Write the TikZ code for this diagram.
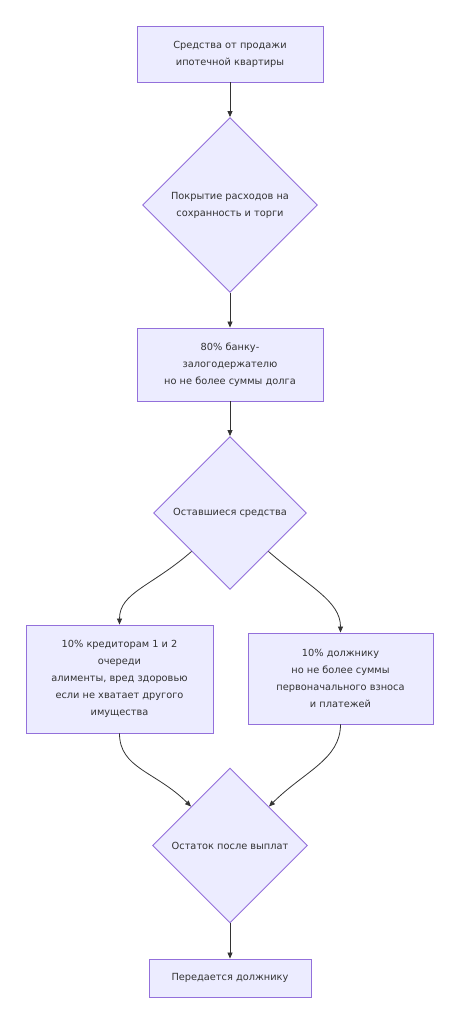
\documentclass[tikz,border=0pt]{standalone}
\usepackage{fontspec}
\setmainfont{DejaVu Sans}
\usetikzlibrary{shapes.geometric,arrows.meta}
\definecolor{nodefill}{HTML}{ECECFF}
\definecolor{nodeline}{HTML}{9370DB}
\definecolor{txt}{HTML}{333333}
\tikzset{
  base/.style={fill=nodefill, draw=nodeline, line width=0.9pt, text=txt,
    font=\fontsize{9.8}{17}\selectfont, align=center, inner sep=0pt},
  box/.style={base, rectangle},
  dia/.style={base, diamond, aspect=1},
  conn/.style={draw=txt, line width=0.8pt, -{Triangle[length=6pt,width=5pt]}}
}
\begin{document}
\begin{tikzpicture}[x=1pt,y=-1pt]
\useasboundingbox (0,0) rectangle (460,1024);
\node[box, minimum width=186pt, minimum height=56pt] (b1) at (230,54)
  {Средства от продажи\\ипотечной квартиры};
\node[dia, minimum width=175pt, minimum height=175pt] (d1) at (230,205)
  {Покрытие расходов на\\сохранность и торги};
\node[box, minimum width=186pt, minimum height=73pt] (b2) at (230,364.5)
  {80\% банку-\\залогодержателю\\но не более суммы долга};
\node[dia, minimum width=153pt, minimum height=153pt] (d2) at (230,513)
  {Оставшиеся средства};
\node[box, minimum width=187pt, minimum height=108pt] (b3) at (119.5,679)
  {10\% кредиторам 1 и 2\\очереди\\алименты, вред здоровью\\если не хватает другого\\имущества};
\node[box, minimum width=185pt, minimum height=91pt] (b4) at (340.5,678.5)
  {10\% должнику\\но не более суммы\\первоначального взноса\\и платежей};
\node[dia, minimum width=155pt, minimum height=155pt] (d3) at (230,845.5)
  {Остаток после выплат};
\node[box, minimum width=162pt, minimum height=38pt] (b5) at (230,978)
  {Передается должнику};

\draw[conn] (b1.south) -- (d1.north);
\draw[conn] (d1.south) -- (b2.north);
\draw[conn] (b2.south) -- (d2.north);
\draw[conn] (d2.south west) .. controls +(-40,35) and +(0,-32) .. (b3.north);
\draw[conn] (d2.south east) .. controls +(40,35) and +(0,-32) .. (b4.north);
\draw[conn] (b3.south) .. controls +(0,35) and +(-35,-35) .. (d3.north west);
\draw[conn] (b4.south) .. controls +(0,35) and +(35,-35) .. (d3.north east);
\draw[conn] (d3.south) -- (b5.north);
\end{tikzpicture}
\end{document}
